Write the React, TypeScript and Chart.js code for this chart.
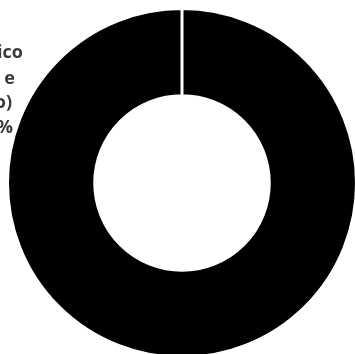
import React, { useEffect, useRef } from "react";
import { Chart, registerables } from "chart.js";

Chart.register(...registerables);

// Single category (whole ring = 100%); its data label sits off the left edge and is clipped.
const categories = ["Público"];
const values = [100];
// Visible (clipped) fragments of the data label, as they appear at the left edge
const labelLines = ["ico", "e", "o)", "%"];
const labelEnds = [23, 15, 12, 13];
const labelBaselines = [58, 84, 108, 133];

const labelPlugin = {
  id: "sideLabel",
  afterDraw(chart: any) {
    const ctx = chart.ctx;
    ctx.save();
    ctx.font = "bold 18px 'Open Sans', Lato, sans-serif";
    ctx.fillStyle = "#3a3a3a";
    ctx.textAlign = "right";
    ctx.textBaseline = "alphabetic";
    labelLines.forEach((t, i) => {
      ctx.fillText(t, labelEnds[i], labelBaselines[i]);
    });
    ctx.restore();
  },
};

export default function App() {
  const ref = useRef<HTMLCanvasElement>(null);
  useEffect(() => {
    if (!ref.current) return;
    const chart = new Chart(ref.current, {
      type: "doughnut",
      data: {
        labels: categories,
        datasets: [
          {
            data: values,
            backgroundColor: ["#000000"],
            borderColor: "#ffffff",
            borderWidth: 3,
          },
        ],
      },
      options: {
        responsive: false,
        animation: false,
        cutout: "50%",
        layout: { padding: { left: 6, right: 6, top: 7, bottom: 7 } },
        plugins: {
          legend: { display: false },
          tooltip: { enabled: false },
        },
      },
      plugins: [labelPlugin],
    });
    return () => chart.destroy();
  }, []);
  return (
    <div
      style={{
        position: "fixed",
        left: 0,
        top: 0,
        width: 355,
        height: 354,
        overflow: "hidden",
        background: "#ffffff",
      }}
    >
      <canvas ref={ref} width={364} height={366} style={{ display: "block" }} />
    </div>
  );
}
